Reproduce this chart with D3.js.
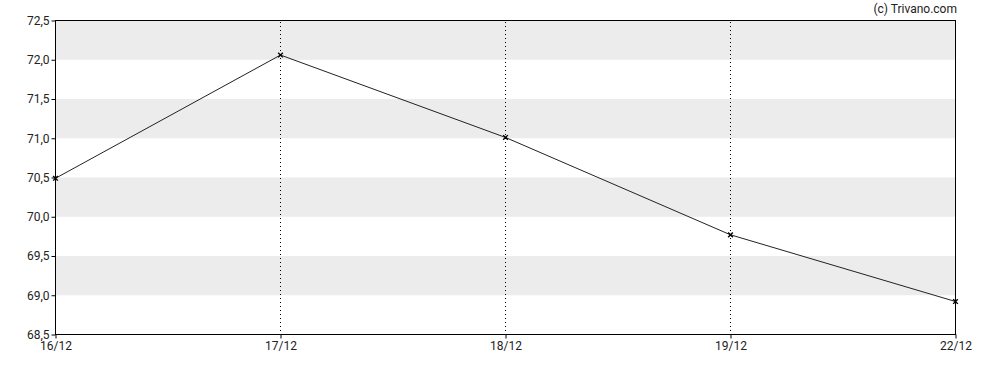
<!DOCTYPE html>
<html>
<head>
<meta charset="utf-8">
<script src="https://cdn.jsdelivr.net/npm/d3@7"></script>
<style>
  body { margin: 0; background: #fff; }
  svg text { font-family: Roboto, "Liberation Sans", sans-serif; }
</style>
</head>
<body>
<script>
'use strict';

// chart data
const dates = ["16/12", "17/12", "18/12", "19/12", "22/12"];
const prices = [70.49, 72.06, 71.01, 69.77, 68.92];
const yTicks = [68.5, 69.0, 69.5, 70.0, 70.5, 71.0, 71.5, 72.0, 72.5];

(function() {
  const width = 988, height = 370;
  const plotLeft = 55.5, plotRight = 955.5, plotTop = 20.5, plotBottom = 334.5;

  const svg = d3.select('body').append('svg')
    .attr('width', width)
    .attr('height', height);

  const x = d3.scalePoint().domain(dates).range([plotLeft, plotRight]);
  const y = d3.scaleLinear().domain([68.5, 72.5]).range([plotBottom, plotTop]);

  const fmt = (v) => d3.format('.1f')(v).replace('.', ',');

  // grey bands
  for (let i = 0; i < yTicks.length - 1; i++) {
    if (i % 2 === 1) {
      svg.append('rect')
        .attr('x', plotLeft)
        .attr('y', y(yTicks[i + 1]))
        .attr('width', plotRight - plotLeft)
        .attr('height', y(yTicks[i]) - y(yTicks[i + 1]))
        .attr('fill', '#ececec');
    }
  }

  // vertical dotted grid lines (aligned to whole pixels so the dots stay crisp)
  svg.selectAll('.vgrid')
    .data(dates.slice(1, -1))
    .enter()
    .append('line')
    .attr('x1', (d) => x(d))
    .attr('x2', (d) => x(d))
    .attr('y1', plotTop + 1.5)
    .attr('y2', plotBottom - 0.5)
    .attr('stroke', '#000')
    .attr('stroke-dasharray', '1,3');

  // frame
  svg.append('rect')
    .attr('x', plotLeft)
    .attr('y', plotTop)
    .attr('width', plotRight - plotLeft)
    .attr('height', plotBottom - plotTop)
    .attr('fill', 'none')
    .attr('stroke', '#000');

  // y axis
  const yAxis = d3.axisLeft(y).tickValues(yTicks).tickFormat(fmt).tickSize(4).tickPadding(2);
  const gy = svg.append('g')
    .attr('transform', 'translate(' + plotLeft + ',0)')
    .call(yAxis);
  gy.select('.domain').remove();
  gy.selectAll('text').style('font-size', '12px').attr('fill', '#222');

  // x axis
  const xAxis = d3.axisBottom(x).tickSize(4).tickPadding(3);
  const gx = svg.append('g')
    .attr('transform', 'translate(0,' + plotBottom + ')')
    .call(xAxis);
  gx.select('.domain').remove();
  gx.selectAll('text').style('font-size', '12px').attr('fill', '#222');

  // line
  svg.append('path')
    .datum(prices)
    .attr('fill', 'none')
    .attr('stroke', '#222')
    .attr('stroke-width', 1)
    .attr('d', d3.line()
      .x((d, i) => x(dates[i]))
      .y((d) => y(d)));

  // cross markers
  svg.selectAll('.mark')
    .data(prices)
    .enter()
    .append('path')
    .attr('d', d3.symbol().type(d3.symbolX).size(16))
    .attr('transform', (d, i) => 'translate(' + x(dates[i]) + ',' + y(d) + ')')
    .attr('stroke', '#000')
    .attr('stroke-width', 1.4)
    .attr('fill', 'none');

  // copyright
  svg.append('text')
    .attr('x', 957)
    .attr('y', 13)
    .attr('text-anchor', 'end')
    .style('font-size', '12px')
    .attr('fill', '#222')
    .text('(c) Trivano.com');
})();
</script>
</body>
</html>
